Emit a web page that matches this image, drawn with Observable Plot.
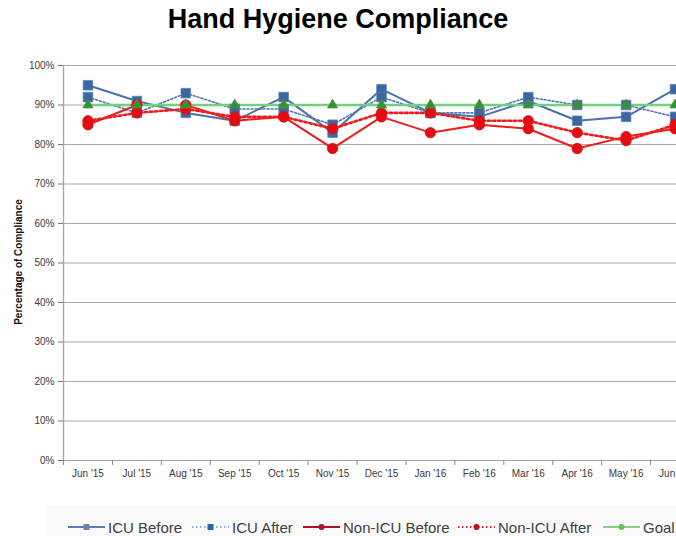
<!DOCTYPE html>
<html>
<head>
<meta charset="utf-8">
<script src="https://cdn.jsdelivr.net/npm/d3@7"></script>
<script src="https://cdn.jsdelivr.net/npm/@observablehq/plot@0.6"></script>
<style>
  html, body { margin: 0; padding: 0; background: #fff; overflow: hidden; }
  #wrap { position: relative; width: 676px; height: 536px; overflow: hidden; font-family: "Liberation Sans", Arial, sans-serif; }
  #title { position: absolute; left: 0; top: 4px; width: 676px; text-align: center; font-weight: bold; font-size: 27px; color: #000; }
  #chart { position: absolute; left: 0; top: 46px; width: 699px; }
  #chart svg { max-width: none !important; }
  #ylabel { position: absolute; left: 18px; top: 262px; transform: translate(-50%, -50%) rotate(-90deg); font-weight: bold; font-size: 10px; color: #111; white-space: nowrap; }
  #legendbg { position: absolute; left: 45px; top: 505px; width: 640px; height: 40px; background: #fafafa; }
  .leg { position: absolute; top: 518px; height: 18px; display: flex; align-items: center; font-size: 15px; color: #404040; white-space: nowrap; }
  .leg svg { margin-right: 3px; }
</style>
</head>
<body>
<div id="wrap">
  <div id="title">Hand Hygiene Compliance</div>
  <div id="chart"></div>
  <div id="ylabel">Percentage of Compliance</div>
  <div id="legendbg"></div>
  <div id="legend"></div>
</div>
<script>
const months = ["Jun '15", "Jul '15", "Aug '15", "Sep '15", "Oct '15", "Nov '15", "Dec '15", "Jan '16", "Feb '16", "Mar '16", "Apr '16", "May '16", "Jun '16"];
const icuBefore    = [95, 91, 88, 86, 92, 83, 94, 88, 87, 91, 86, 87, 94];
const icuAfter     = [92, 88, 93, 89, 89, 85, 92, 88, 88, 92, 90, 90, 87];
const nonIcuBefore = [85, 90, 90, 86, 87, 79, 87, 83, 85, 84, 79, 82, 84];
const nonIcuAfter  = [86, 88, 89, 87, 87, 84, 88, 88, 86, 86, 83, 81, 85];
const goal         = [90, 90, 90, 90, 90, 90, 90, 90, 90, 90, 90, 90, 90];
const yTicks = [0, 10, 20, 30, 40, 50, 60, 70, 80, 90, 100];
const seriesNames = ["ICU Before", "ICU After", "Non-ICU Before", "Non-ICU After", "Goal"];

const seriesValues = [icuBefore, icuAfter, nonIcuBefore, nonIcuAfter, goal];
const styles = {
  "ICU Before":     {stroke: "#4a72a8", strokeWidth: 2,   dash: null,      symbol: "square",   r: 5.4, fill: "#3b66a0", mstroke: "#5d83b8"},
  "ICU After":      {stroke: "#4f78ad", strokeWidth: 1.6, dash: "2,2",     symbol: "square",   r: 5.4, fill: "#3b66a0", mstroke: "#5d83b8"},
  "Non-ICU Before": {stroke: "#ee1c1c", strokeWidth: 2,   dash: null,      symbol: "circle",   r: 5.2, fill: "#e50b12", mstroke: "#e50b12"},
  "Non-ICU After":  {stroke: "#ee1c1c", strokeWidth: 2.6, dash: "2.6,2.6", symbol: "circle",   r: 5.2, fill: "#e50b12", mstroke: "#e50b12"},
  "Goal":           {stroke: "#6fd07f", strokeWidth: 2.4, dash: null,      symbol: "triangle", r: 3.8, fill: "#1e9b3c", mstroke: "#8a7a30"}
};

const rows = seriesNames.flatMap((name, k) => months.map((m, i) => ({series: name, month: m, value: seriesValues[k][i]})));

const W = 699, ML = 63, MR = 0, H = 460, MT = 19, MB = 46;
const step = (W - ML - MR) / months.length;

const lineMarks = seriesNames.map(name => {
  const s = styles[name];
  return Plot.line(rows.filter(d => d.series === name), {
    x: "month", y: "value", stroke: s.stroke, strokeWidth: s.strokeWidth,
    strokeDasharray: s.dash, curve: "linear"
  });
});
const dotMarks = seriesNames.map(name => {
  const s = styles[name];
  return Plot.dot(rows.filter(d => d.series === name), {
    x: "month", y: "value", symbol: () => s.symbol, r: s.r, fill: s.fill, stroke: s.mstroke, strokeWidth: 0.8
  });
});

const chart = Plot.plot({
  width: W, height: H,
  marginLeft: ML, marginRight: MR, marginTop: MT, marginBottom: MB,
  style: {fontFamily: "'Liberation Sans', Arial, sans-serif", fontSize: "10px", color: "#3a3a3a", background: "transparent", overflow: "visible", maxWidth: "none"},
  x: {type: "point", domain: months, padding: 0.5, round: false, label: null, axis: null},
  y: {domain: [0, 100], label: null, axis: null},
  symbol: {type: "identity"},
  marks: [
    Plot.gridY(yTicks, {stroke: "#a8a8a8", strokeOpacity: 1, strokeWidth: 1.2}),
    Plot.ruleX([months[0]], {dx: -step / 2, y1: 0, y2: 100, stroke: "#a8a8a8", strokeWidth: 1.4}),
    Plot.axisY(yTicks, {tickFormat: d => d + "%", tickSize: 5, tickPadding: 4, stroke: "#777", fill: "#3a3a3a", fontSize: 10}),
    Plot.axisX(months, {tickSize: 5, tickFormat: () => "", dx: -step / 2, stroke: "#888"}),
    Plot.axisX(months, {tickSize: 0, tickPadding: 9, fill: "#3a3a3a", fontSize: 10}),
    ...lineMarks,
    ...dotMarks
  ]
});
chart.style.maxWidth = "none";
document.getElementById("chart").appendChild(chart);

// Legend
const legendLeft = {"ICU Before": 68, "ICU After": 192, "Non-ICU Before": 303, "Non-ICU After": 458, "Goal": 603};
const legendStyle = {
  "ICU Before":     {stroke: "#5a7db2", dash: null,  marker: "square", fill: "#6f84aa", w: 1.8},
  "ICU After":      {stroke: "#6a9ad0", dash: "1.5,2.5", marker: "square", fill: "#2b67a8", w: 1.6},
  "Non-ICU Before": {stroke: "#b01028", dash: null,  marker: "circle", fill: "#b01028", w: 2.2},
  "Non-ICU After":  {stroke: "#c23040", dash: "1.5,2.5", marker: "circle", fill: "#b8101e", w: 1.8},
  "Goal":           {stroke: "#8ccf8a", dash: null,  marker: "circle", fill: "#6cbf5c", w: 1.8}
};
const legend = d3.select("#legend");
seriesNames.forEach(name => {
  const s = legendStyle[name];
  const item = legend.append("div").attr("class", "leg").style("left", legendLeft[name] + "px");
  const svg = item.append("svg").attr("width", 37).attr("height", 12);
  svg.append("line").attr("x1", 0).attr("x2", 37).attr("y1", 6).attr("y2", 6)
    .attr("stroke", s.stroke).attr("stroke-width", s.w).attr("stroke-dasharray", s.dash);
  if (s.marker === "square") {
    svg.append("rect").attr("x", 15.5).attr("y", 3).attr("width", 6).attr("height", 6).attr("fill", s.fill);
  } else {
    svg.append("circle").attr("cx", 18.5).attr("cy", 6).attr("r", 3).attr("fill", s.fill);
  }
  item.append("span").text(name);
});
</script>
</body>
</html>
